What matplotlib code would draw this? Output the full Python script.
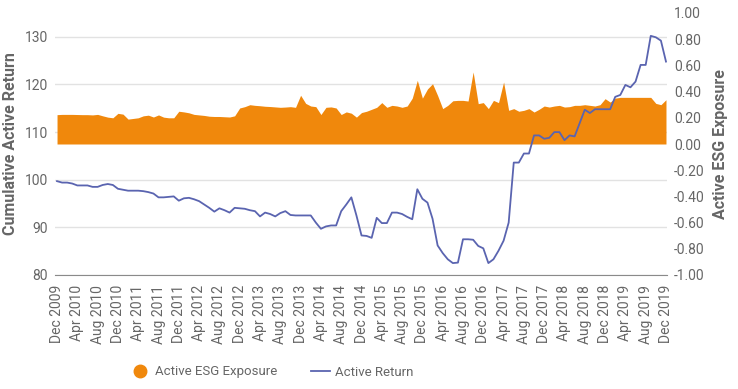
import numpy as np
import pandas as pd
import matplotlib
matplotlib.use("Agg")
import matplotlib.pyplot as plt
from matplotlib.lines import Line2D

plt.rcParams["font.family"] = ["Roboto", "DejaVu Sans"]

# monthly, Dec 2009 .. Dec 2019
months = pd.date_range("2009-12-01", periods=121, freq="MS")

# cumulative active return (left axis)
active_return = [
    99.7, 99.4, 99.4, 99.2, 98.8, 98.8, 98.8, 98.5, 98.5, 98.9,
    99.1, 98.9, 98.1, 97.9, 97.7, 97.7, 97.7, 97.6, 97.4, 97.1,
    96.3, 96.3, 96.4, 96.5, 95.6, 96.1, 96.2, 95.9, 95.5, 94.8,
    94.1, 93.3, 94.0, 93.6, 93.1, 94.1, 94.0, 93.9, 93.6, 93.4,
    92.3, 93.1, 92.8, 92.3, 93.0, 93.4, 92.6, 92.5, 92.5, 92.5,
    92.5, 91.0, 89.7, 90.2, 90.4, 90.4, 93.4, 94.8, 96.3, 92.5,
    88.3, 88.2, 87.8, 92.0, 90.9, 90.9, 93.1, 93.1, 92.8, 92.2,
    91.7, 98.0, 96.0, 95.2, 91.8, 86.2, 84.6, 83.3, 82.5, 82.6,
    87.5, 87.5, 87.4, 86.1, 85.6, 82.5, 83.3, 85.1, 87.2, 91.0,
    103.6, 103.6, 105.5, 105.5, 109.3, 109.3, 108.6, 108.8, 110.0, 110.0,
    108.3, 109.3, 109.1, 111.9, 114.7, 114.0, 114.8, 114.8, 114.8, 114.8,
    117.4, 117.8, 119.9, 119.4, 120.6, 124.1, 124.1, 130.2, 129.9, 129.2,
    124.8,
]

# active ESG exposure (right axis)
esg_exposure = [
    .224, .226, .226, .226, .225, .224, .224, .222, .226, .215,
    .205, .200, .234, .228, .190, .195, .200, .215, .220, .206,
    .222, .205, .200, .200, .250, .245, .238, .226, .222, .218,
    .212, .210, .210, .208, .206, .215, .275, .285, .300, .295,
    .292, .288, .286, .283, .280, .282, .285, .280, .372, .310,
    .290, .285, .225, .280, .283, .275, .225, .245, .235, .205,
    .240, .250, .265, .280, .316, .280, .295, .290, .280, .290,
    .350, .486, .350, .420, .460, .370, .270, .295, .330, .333,
    .333, .328, .550, .308, .316, .270, .333, .316, .473, .257,
    .270, .250, .257, .270, .244, .265, .290, .282, .290, .295,
    .282, .285, .295, .295, .300, .295, .290, .300, .346, .320,
    .350, .356, .356, .356, .356, .356, .356, .356, .310, .300,
    .338,
]

left_ticks = [80, 90, 100, 110, 120, 130]
right_ticks = [-1.0, -0.8, -0.6, -0.4, -0.2, 0.0, 0.2, 0.4, 0.6, 0.8, 1.0]

orange = "#f0880c"
blue = "#5a64b0"
grey = "#666666"

x = np.arange(len(months))
tick_idx = x[::4]
tick_labels = [m.strftime("%b %Y") for m in months[::4]]

fig = plt.figure(figsize=(7.38, 3.89), dpi=100)
ax = fig.add_axes([55 / 738, 1 - 275 / 389, (667 - 55) / 738, (275 - 13) / 389])
ax2 = ax.twinx()
ax3 = ax.twinx()

# layer order: grid (ax) < orange area (ax2) < blue line (ax3)
ax.set_zorder(0)
ax2.set_zorder(1)
ax3.set_zorder(2)
ax2.patch.set_visible(False)
ax3.patch.set_visible(False)

ax2.fill_between(x, 0, esg_exposure, color=orange, lw=0)
ax3.plot(x, active_return, color=blue, lw=1.3)

ax.set_xlim(-0.4, 120.2)
ax.set_ylim(80, 135)
ax3.set_ylim(80, 135)
ax2.set_ylim(-1, 1)

ax.set_yticks(left_ticks)
ax.set_yticklabels([str(t) for t in left_ticks])
ax2.set_yticks(right_ticks)
ax2.set_yticklabels([f"{t:.2f}" for t in right_ticks])
ax3.set_yticks([])

ax.set_xticks(tick_idx)
ax.set_xticklabels(tick_labels, rotation=90)

ax.grid(axis="y", color="#e2e2e2", lw=1)
ax.tick_params(axis="both", length=0, colors=grey, labelsize=10)
ax.tick_params(axis="y", pad=5)
ax.tick_params(axis="x", pad=7)
ax2.tick_params(axis="y", length=0, colors=grey, labelsize=10, pad=5)

for a in (ax, ax2, ax3):
    for s in ("top", "left", "right", "bottom"):
        a.spines[s].set_visible(False)
ax.spines["bottom"].set_visible(True)
ax.spines["bottom"].set_color("#8a8a8a")

ax.set_ylabel("Cumulative Active Return", color=grey, fontsize=11.5,
              fontweight="bold", labelpad=5)
ax2.set_ylabel("Active ESG Exposure", color=grey, fontsize=11.5,
               fontweight="bold", labelpad=6)

handles = [
    Line2D([], [], marker="o", ls="none", color=orange, markersize=9),
    Line2D([], [], color=blue, lw=1.3),
]
fig.legend(handles, ["Active ESG Exposure", "Active Return"],
           loc="center", bbox_to_anchor=(272 / 738, 1 - 372 / 389),
           ncol=2, frameon=False, fontsize=9.5, labelcolor=grey,
           handlelength=1.4, handletextpad=0.4, columnspacing=2.6)

fig.savefig("out.png", dpi=100)
